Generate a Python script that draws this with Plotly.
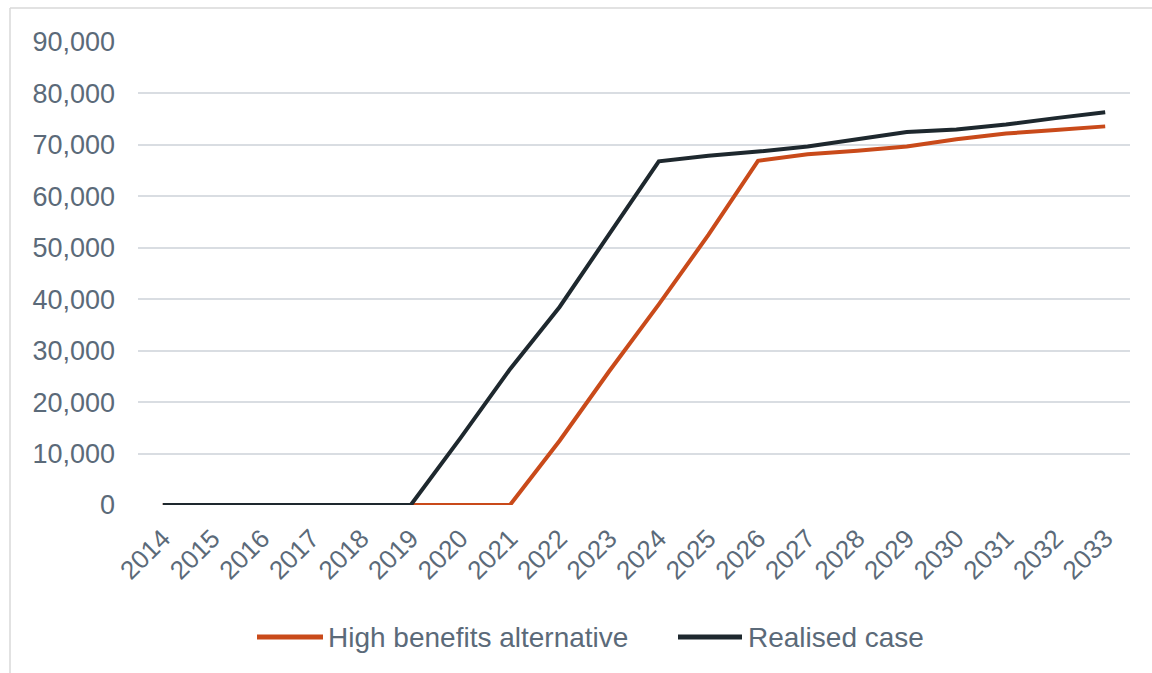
import plotly.graph_objects as go

years = [str(y) for y in range(2014, 2034)]
high_benefits = [0, 0, 0, 0, 0, 0, 0, 0, 12500, 26000, 39000, 52500, 66900,
                 68200, 68850, 69700, 71100, 72200, 72900, 73600]
realised = [0, 0, 0, 0, 0, 0, 13000, 26400, 38500, 52800, 66800, 67900, 68700,
            69700, 71100, 72500, 73000, 73950, 75200, 76350]
y_ticks = [0, 10000, 20000, 30000, 40000, 50000, 60000, 70000, 80000, 90000]
series_names = ["High benefits alternative", "Realised case"]
colors = ["#C94A1A", "#1E282E"]

W, H = 1152, 673
L, R, T, B = 138, 1130, 42, 505
PW, PH = R - L, B - T

def px(x):
    return (x - L) / PW

def py(y):
    return (B - y) / PH

fig = go.Figure()
fig.add_trace(go.Scatter(x=years, y=high_benefits, mode="lines", name=series_names[0],
                         line=dict(color=colors[0], width=4), showlegend=False))
fig.add_trace(go.Scatter(x=years, y=realised, mode="lines", name=series_names[1],
                         line=dict(color=colors[1], width=4), showlegend=False))

font_color = "#5b6a79"
shapes = []
annotations = []
# manual legend
legend_items = [(257, 323, 326), (678, 742, 746)]
for (x0, x1, tx), name, c in zip(legend_items, series_names, colors):
    shapes.append(dict(type="line", xref="paper", yref="paper",
                       x0=px(x0), x1=px(x1), y0=py(637), y1=py(637),
                       line=dict(color=c, width=5)))
    annotations.append(dict(xref="paper", yref="paper", x=px(tx), y=py(637),
                            text=name, showarrow=False, xanchor="left", yanchor="middle",
                            font=dict(family="Liberation Sans, Arial", size=28, color=font_color)))
# outer border (top and left)
shapes.append(dict(type="line", xref="paper", yref="paper", x0=px(10), x1=px(1152),
                   y0=py(8), y1=py(8), line=dict(color="#d9d9d9", width=1.5)))
shapes.append(dict(type="line", xref="paper", yref="paper", x0=px(10), x1=px(10),
                   y0=py(8), y1=py(673), line=dict(color="#d9d9d9", width=1.5)))

fig.update_layout(
    width=W, height=H,
    margin=dict(l=L, r=W - R, t=T, b=H - B, pad=0),
    paper_bgcolor="white", plot_bgcolor="white",
    font=dict(family="Liberation Sans, Arial", color=font_color),
    shapes=shapes, annotations=annotations,
    showlegend=False,
    xaxis=dict(type="category", range=[-0.5, 19.5], showgrid=False, zeroline=False,
               showline=False, ticks="", tickangle=-45, tickfont=dict(size=26, color=font_color),
               ticklabelstandoff=12),
    yaxis=dict(range=[0, 90000], tickvals=y_ticks, tickformat=",", showgrid=True,
               gridcolor="#d9dde2", gridwidth=1.5, zeroline=False, showline=False,
               tickfont=dict(size=27, color=font_color), ticklabelstandoff=22),
)

fig.write_html("out.html")
